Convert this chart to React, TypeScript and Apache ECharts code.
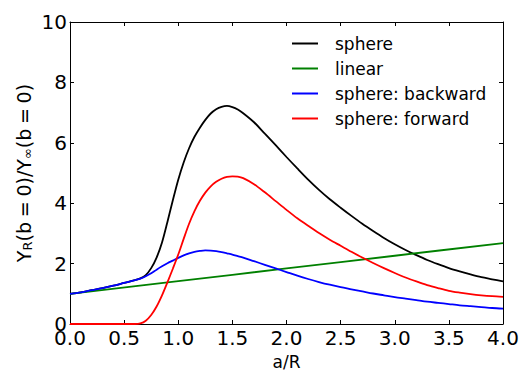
import React, { useEffect, useRef } from 'react';
import * as echarts from 'echarts';

const FONT = 'DejaVu Sans';
const WIDTH = 529;
const HEIGHT = 371;

// a/R sample positions shared by the sphere curves
const sphereA = [
  0, 0.1, 0.2, 0.3, 0.4, 0.5, 0.6, 0.65, 0.7, 0.75, 0.8, 0.85, 0.9, 0.95, 1.0,
  1.05, 1.1, 1.15, 1.2, 1.25, 1.3, 1.35, 1.4, 1.45, 1.5, 1.55, 1.6, 1.7, 1.8, 1.9, 2.0,
  2.1, 2.2, 2.3, 2.4, 2.5, 2.6, 2.7, 2.8, 2.9, 3.0, 3.1, 3.2, 3.3, 3.4, 3.5, 3.6,
  3.7, 3.8, 3.9, 4.0,
];

const sphereY = [
  1.0, 1.05, 1.12, 1.19, 1.27, 1.36, 1.45, 1.51, 1.62, 1.85, 2.2, 2.7, 3.38, 4.1, 4.78,
  5.35, 5.82, 6.2, 6.5, 6.76, 6.97, 7.11, 7.19, 7.22, 7.18, 7.1, 6.98, 6.68, 6.3, 5.92, 5.53,
  5.15, 4.78, 4.44, 4.13, 3.85, 3.58, 3.32, 3.08, 2.85, 2.64, 2.45, 2.28, 2.12, 1.98, 1.85, 1.74,
  1.64, 1.55, 1.48, 1.41,
];

const backwardY = [
  1.0, 1.05, 1.12, 1.19, 1.27, 1.36, 1.45, 1.5, 1.58, 1.68, 1.8, 1.91, 2.01, 2.1, 2.19,
  2.27, 2.34, 2.39, 2.42, 2.44, 2.43, 2.41, 2.38, 2.34, 2.3, 2.25, 2.2, 2.08, 1.96, 1.84, 1.72,
  1.6, 1.49, 1.39, 1.3, 1.22, 1.15, 1.08, 1.01, 0.95, 0.89, 0.84, 0.79, 0.74, 0.7, 0.66, 0.62,
  0.59, 0.56, 0.53, 0.51,
];

const forwardA = [
  0, 0.3, 0.6, 0.65, 0.7, 0.75, 0.8, 0.85, 0.9, 0.95, 1.0, 1.05, 1.1, 1.15, 1.2, 1.25,
  1.3, 1.35, 1.4, 1.45, 1.5, 1.55, 1.6, 1.7, 1.8, 1.9, 2.0, 2.1, 2.2, 2.3, 2.4, 2.5, 2.6,
  2.7, 2.8, 2.9, 3.0, 3.1, 3.2, 3.3, 3.4, 3.5, 3.6, 3.7, 3.8, 3.9, 4.0,
];

const forwardY = [
  0, 0, 0, 0.02, 0.11, 0.3, 0.58, 0.95, 1.38, 1.83, 2.3, 2.82, 3.32, 3.74, 4.08, 4.35,
  4.56, 4.71, 4.81, 4.87, 4.89, 4.88, 4.83, 4.63, 4.36, 4.07, 3.78, 3.5, 3.25, 3.01, 2.79, 2.59, 2.39,
  2.2, 2.02, 1.85, 1.69, 1.54, 1.41, 1.29, 1.19, 1.1, 1.04, 0.99, 0.95, 0.92, 0.9,
];

const linearA = [0, 1, 2, 3, 4];
const linearY = [1.0, 1.42, 1.84, 2.26, 2.68];

const xTicks = { min: 0, max: 4, interval: 0.5 };
const yTicks = { min: 0, max: 10, interval: 2 };

const pairs = (xs: number[], ys: number[]) => xs.map((x, i) => [x, ys[i]]);

export default function App() {
  const ref = useRef<HTMLDivElement>(null);

  useEffect(() => {
    document.body.style.margin = '0';
    const chart = echarts.init(ref.current!, null, {
      renderer: 'svg',
      width: WIDTH,
      height: HEIGHT,
    });

    const frame = {
      show: true,
      onZero: false,
      lineStyle: { color: '#000', width: 1 },
    };
    const ticks = { show: true, inside: true, length: 4, lineStyle: { color: '#000', width: 1 } };
    const tickLabel = { fontSize: 20, lineHeight: 14, color: '#000', fontFamily: FONT };

    const line = (name: string, color: string, data: number[][]) => ({
      name,
      type: 'line',
      data,
      symbol: 'none',
      smooth: 0.3,
      lineStyle: { color, width: 1.8 },
      itemStyle: { color },
    });

    chart.setOption({
      animation: false,
      grid: {
        left: 70,
        right: 26,
        top: 22,
        bottom: 47,
        containLabel: false,
        outerBoundsMode: 'none',
      },
      xAxis: [
        {
          type: 'value',
          ...xTicks,
          position: 'bottom',
          axisLine: frame,
          axisTick: ticks,
          splitLine: { show: false },
          axisLabel: { ...tickLabel, margin: 7, formatter: (v: number) => v.toFixed(1) },
          name: 'a/R',
          nameLocation: 'middle',
          nameGap: 31,
          nameTextStyle: { fontSize: 17, lineHeight: 14, color: '#000', fontFamily: FONT },
        },
        {
          type: 'value',
          ...xTicks,
          position: 'top',
          axisLine: frame,
          axisTick: ticks,
          splitLine: { show: false },
          axisLabel: { show: false },
        },
      ],
      yAxis: [
        {
          type: 'value',
          ...yTicks,
          position: 'left',
          axisLine: frame,
          axisTick: ticks,
          splitLine: { show: false },
          axisLabel: { ...tickLabel, margin: 3 },
        },
        {
          type: 'value',
          ...yTicks,
          position: 'right',
          axisLine: frame,
          axisTick: ticks,
          splitLine: { show: false },
          axisLabel: { show: false },
        },
      ],
      legend: {
        orient: 'vertical',
        left: 292,
        top: 35,
        padding: 0,
        icon: 'rect',
        itemWidth: 26,
        itemHeight: 2,
        itemGap: 8,
        data: ['sphere', 'linear', 'sphere: backward', 'sphere: forward'],
        textStyle: {
          fontSize: 17,
          lineHeight: 17,
          color: '#000',
          fontFamily: FONT,
          padding: [0, 0, 0, 12],
        },
      },
      graphic: [
        {
          type: 'text',
          x: 24,
          y: 173,
          rotation: Math.PI / 2,
          style: {
            text: '{m|Y}{s|R}{m|(b\u2005=\u20050)/Y}{s|\u221e}{m|(b\u2005=\u20050)}',
            align: 'center',
            verticalAlign: 'middle',
            fill: '#000',
            rich: {
              m: { fontSize: 19, fontFamily: FONT, lineHeight: 19, fill: '#000' },
              s: { fontSize: 13, fontFamily: FONT, lineHeight: 5, verticalAlign: 'bottom', fill: '#000' },
            },
          },
        },
      ],
      series: [
        line('sphere', '#000000', pairs(sphereA, sphereY)),
        line('linear', '#008000', pairs(linearA, linearY)),
        line('sphere: backward', '#0000ff', pairs(sphereA, backwardY)),
        line('sphere: forward', '#ff0000', pairs(forwardA, forwardY)),
      ],
    });

    return () => chart.dispose();
  }, []);

  return (
    <div
      ref={ref}
      style={{ position: 'absolute', left: 0, top: 0, width: WIDTH, height: HEIGHT }}
    />
  );
}
